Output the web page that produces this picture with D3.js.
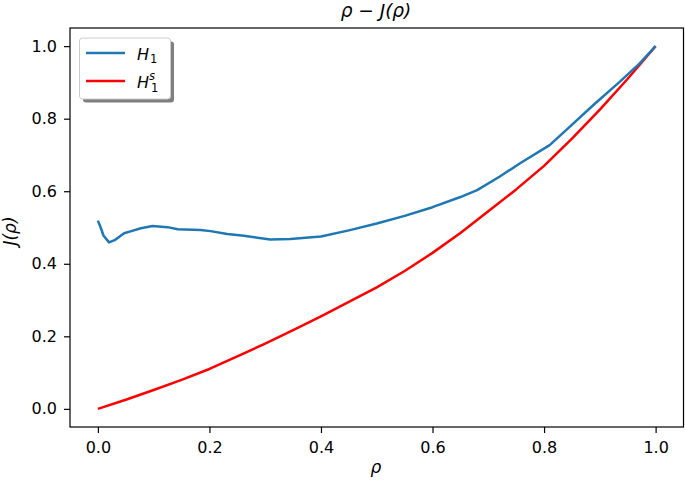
<!DOCTYPE html>
<html><head><meta charset="utf-8">
<script src="https://cdn.jsdelivr.net/npm/d3@7"></script>
<style>body{margin:0;background:#fff}svg{display:block}text{font-family:"DejaVu Sans",sans-serif;fill:#000}</style>
</head><body>
<script>
const rhoH1 = [0.0,0.005,0.01,0.02,0.03,0.047,0.06,0.077,0.098,0.125,0.143,0.184,0.202,0.232,0.262,0.309,0.345,0.4,0.45,0.5,0.55,0.6,0.65,0.68,0.72,0.757,0.81,0.84,0.888,0.936,0.971,1.0];
const valH1 = [0.519,0.5,0.478,0.459,0.465,0.484,0.49,0.498,0.504,0.501,0.495,0.493,0.490,0.482,0.477,0.467,0.468,0.475,0.492,0.511,0.532,0.556,0.584,0.603,0.64,0.677,0.727,0.769,0.837,0.902,0.952,1.0];
const rhoH1s = [0,0.05,0.1,0.15,0.2,0.25,0.3,0.35,0.4,0.45,0.5,0.55,0.6,0.65,0.7,0.75,0.8,0.85,0.9,0.95,1.0];
const valH1s = [0,0.025,0.052,0.08,0.11,0.145,0.18,0.217,0.255,0.295,0.335,0.38,0.43,0.485,0.545,0.605,0.67,0.745,0.825,0.91,1.0];
const xTicks = [0,0.2,0.4,0.6,0.8,1.0];
const yTicks = [0,0.2,0.4,0.6,0.8,1.0];

const W=685,H=481, L=70, R=683.5, T=28, B=427;
const svg=d3.select("body").append("svg").attr("width",W).attr("height",H);
const x=d3.scaleLinear().domain([-0.05,1.05]).range([L,R]);
const y=d3.scaleLinear().domain([-0.05,1.05]).range([B,T]);

const line=d3.line().x(d=>x(d[0])).y(d=>y(d[1]));
const g=svg.append("g");
g.append("path").datum(rhoH1s.map((r,i)=>[r,valH1s[i]])).attr("d",line).attr("fill","none").attr("stroke","#ff0000").attr("stroke-width",2.5).attr("stroke-linejoin","round");
g.append("path").datum(rhoH1.map((r,i)=>[r,valH1[i]])).attr("d",line).attr("fill","none").attr("stroke","#1f77b4").attr("stroke-width",2.5).attr("stroke-linejoin","round");

const xa=svg.append("g").attr("transform",`translate(0,${B})`).call(d3.axisBottom(x).tickValues(xTicks).tickFormat(d3.format(".1f")).tickSize(6).tickPadding(9));
const ya=svg.append("g").attr("transform",`translate(${L},0)`).call(d3.axisLeft(y).tickValues(yTicks).tickFormat(d3.format(".1f")).tickSize(6).tickPadding(7));
[xa,ya].forEach(a=>{a.select(".domain").remove();a.selectAll("text").attr("font-size",16).attr("font-family","DejaVu Sans").attr("fill","#000");a.selectAll("line").attr("stroke","#000").attr("stroke-width",1.2);});
svg.append("rect").attr("x",L).attr("y",T).attr("width",R-L).attr("height",B-T).attr("fill","none").attr("stroke","#000").attr("stroke-width",1.2);

// title & labels
svg.append("text").attr("x",376).attr("y",17).attr("text-anchor","middle").attr("font-size",18.5).attr("font-style","italic").text("ρ − J(ρ)");
svg.append("text").attr("x",376).attr("y",473).attr("text-anchor","middle").attr("font-size",17).attr("font-style","italic").text("ρ");
svg.append("text").attr("transform",`translate(16,231) rotate(-90)`).attr("text-anchor","middle").attr("font-size",17).attr("font-style","italic").text("J(ρ)");

// legend
const lg=svg.append("g");
lg.append("rect").attr("x",83).attr("y",41.5).attr("width",91).attr("height",61).attr("rx",3).attr("fill","#000").attr("opacity",0.5);
lg.append("rect").attr("x",79.5).attr("y",38).attr("width",91).attr("height",61).attr("rx",3).attr("fill","#fff").attr("stroke","#cccccc").attr("stroke-width",1);
const items=[{c:"#1f77b4",sup:null,y:53},{c:"#ff0000",sup:"s",y:81}];
items.forEach(it=>{
  lg.append("line").attr("x1",86).attr("x2",125).attr("y1",it.y).attr("y2",it.y).attr("stroke",it.c).attr("stroke-width",2.5);
  const t=lg.append("text").attr("x",137).attr("y",it.y+6.5).attr("font-size",16);
  t.append("tspan").attr("font-style","italic").text("H");
  if(it.sup){
    t.append("tspan").attr("font-style","italic").attr("font-size",11.5).attr("dy",-8).text("s");
    lg.append("text").attr("x",151).attr("y",it.y+10.5).attr("font-size",11.5).text("1");
  } else {
    t.append("tspan").attr("font-size",11.5).attr("dy",3.5).attr("dx",1).text("1");
  }
});
</script>
</body></html>
